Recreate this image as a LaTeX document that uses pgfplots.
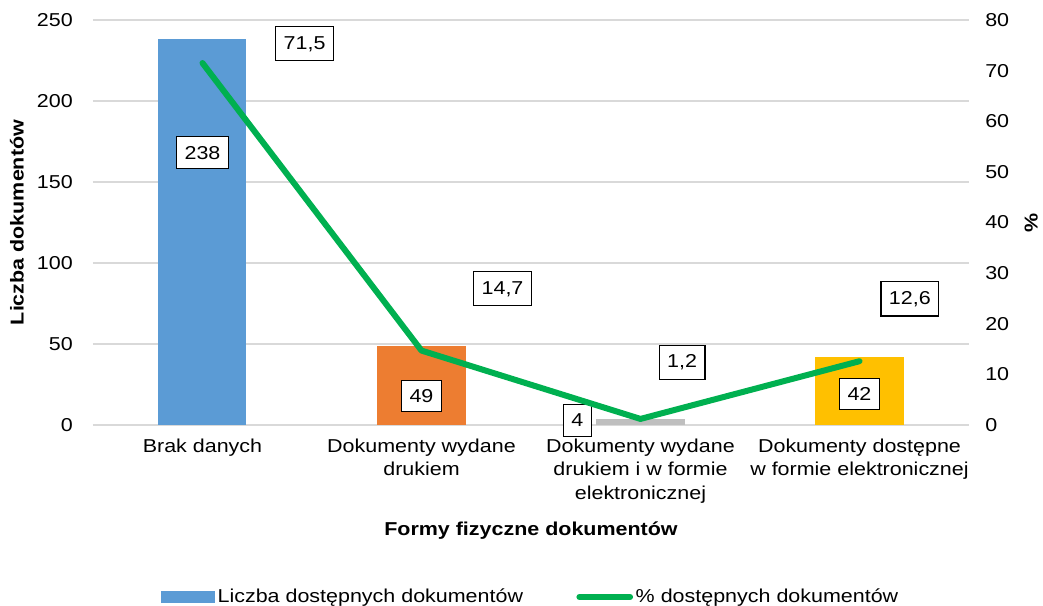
\documentclass[border=0pt]{standalone}
\usepackage{pgfplots}
\pgfplotsset{compat=1.18}
\usepackage{fontspec}
\setmainfont[FakeStretch=1.15]{Liberation Sans}

\definecolor{cblue}{HTML}{5B9BD5}
\definecolor{corange}{HTML}{ED7D31}
\definecolor{cgray}{HTML}{BFBFBF}
\definecolor{cyellow}{HTML}{FFC000}
\definecolor{cgreen}{HTML}{00B050}
\definecolor{gridgray}{HTML}{D9D9D9}

\tikzset{lbl/.style={draw=black, fill=white, line width=0.8pt, inner xsep=6pt, inner ysep=7pt}}

\pgfplotsset{
  common/.style={
    at={(0,0)}, anchor=south west, scale only axis,
    width=657pt, height=303.75pt,
    xmin=-0.5, xmax=3.5,
    clip=false,
    axis line style={draw=none},
    major tick length=0pt,
    /pgf/number format/assume math mode=true,
  }
}

\begin{document}
\fontsize{14}{17.6}\selectfont
\begin{tikzpicture}

% lewa os: liczba dokumentow
\begin{axis}[common,
  ymin=0, ymax=250, ytick={0,50,...,250},
  ymajorgrids, grid style={draw=gridgray, line width=1pt},
  xtick={0,1,2,3},
  xticklabels={{Brak danych},{Dokumenty wydane\\drukiem},{Dokumenty wydane\\drukiem i w formie\\elektronicznej},{Dokumenty dostępne\\w formie elektronicznej}},
  xticklabel style={align=center, inner ysep=0pt, yshift=-10pt},
  yticklabel style={inner xsep=0pt, xshift=-15pt},
  xlabel={\textbf{Formy fizyczne dokumentów}},
  xlabel style={at={(axis description cs:0.5,-0.2617)}, anchor=center},
  ylabel={\textbf{Liczba dokumentów}},
  ylabel style={at={(axis description cs:-0.0868,0.5)}, anchor=center},
]
\addplot[ybar, bar width=66pt, bar shift=0pt, fill=cblue, draw=none] coordinates {(0,238)};
\addplot[ybar, bar width=66pt, bar shift=0pt, fill=corange, draw=none] coordinates {(1,49)};
\addplot[ybar, bar width=66pt, bar shift=0pt, fill=cgray, draw=none] coordinates {(2,4)};
\addplot[ybar, bar width=66pt, bar shift=0pt, fill=cyellow, draw=none] coordinates {(3,42)};

\node[lbl] at (axis cs:0,168) {238};
\node[lbl] at (axis cs:1,17.9) {49};
\node[lbl] at (axis cs:1.712,2.8) {4};
\node[lbl] at (axis cs:3,19.1) {42};
\end{axis}

% prawa os: procent
\begin{axis}[common,
  ymin=0, ymax=80, ytick={0,10,...,80},
  xtick=\empty,
  yticklabel pos=right,
  yticklabel style={inner xsep=0pt, xshift=12pt},
  ylabel={\textbf{\%}},
  ylabel style={at={(axis description cs:1.071,0.5)}, anchor=center},
  legend style={at={(0.5,-0.4247)}, anchor=center, draw=none, fill=none,
    legend columns=2, font=\fontsize{14}{17.6}\selectfont,
    /tikz/every even column/.append style={column sep=38pt}},
  legend cell align=left,
]
\addlegendimage{legend image code/.code={\fill[cblue] (0pt,-4pt) rectangle (40pt,4pt);}}
\addlegendentry{Liczba dostępnych dokumentów}

\addplot[cgreen, line width=4.5pt, line cap=round, line join=round, mark=none,
  legend image code/.code={\draw[cgreen, line width=4.5pt, line cap=round] (2pt,0pt) -- (40pt,0pt);}]
  coordinates {(0,71.5) (1,14.7) (2,1.2) (3,12.6)};
\addlegendentry{\% dostępnych dokumentów}

\node[lbl] at (axis cs:0.466,75.3) {71,5};
\node[lbl] at (axis cs:1.37,26.9) {14,7};
\node[lbl] at (axis cs:2.19,12.4) {1,2};
\node[lbl] at (axis cs:3.23,24.9) {12,6};
\end{axis}

\pgfresetboundingbox
\path[use as bounding box] (-69.75pt,-135.75pt) rectangle (712.5pt,318.75pt);
\end{tikzpicture}
\end{document}
